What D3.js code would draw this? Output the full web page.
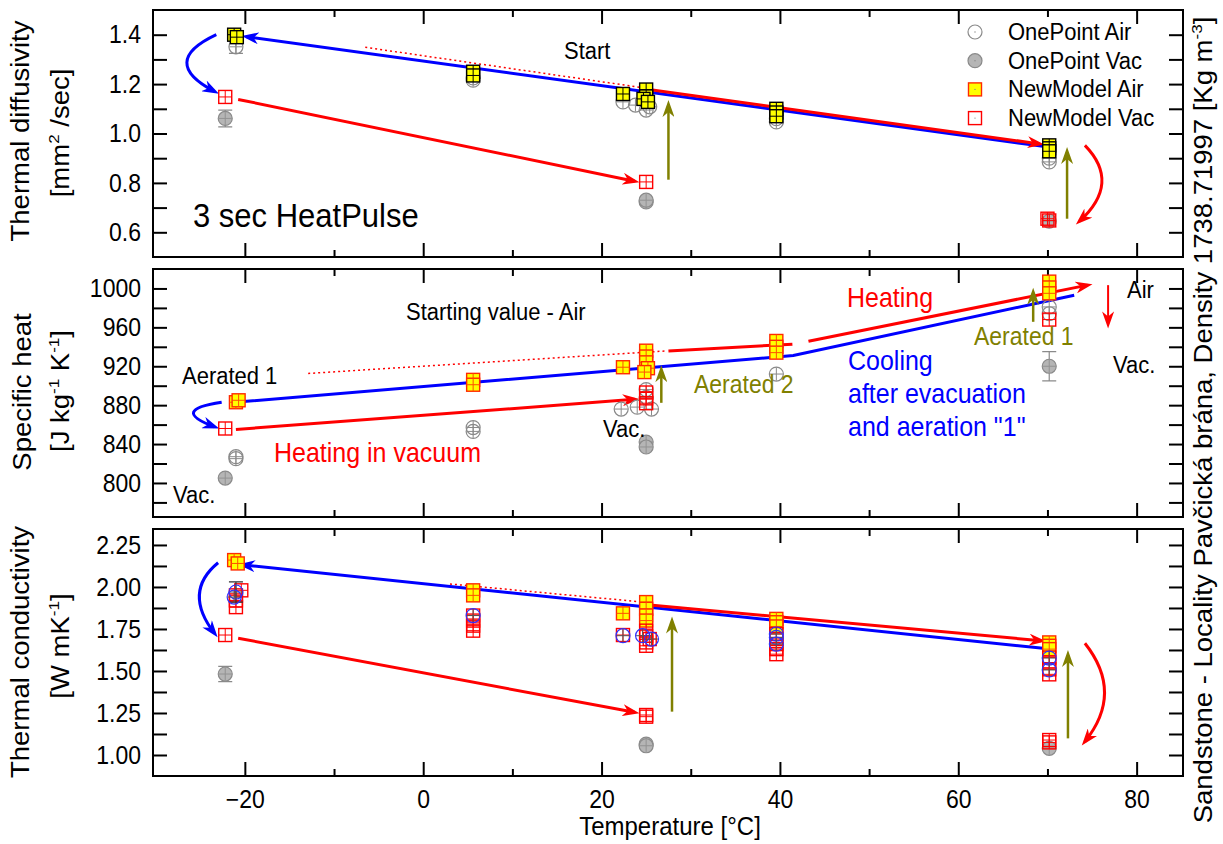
<!DOCTYPE html>
<html>
<head>
<meta charset="utf-8">
<script src="https://cdn.jsdelivr.net/npm/d3@7"></script>
<style>
  body { margin: 0; background: #fff; }
  svg text { font-family: "Liberation Sans", Arial, sans-serif; }
</style>
</head>
<body>
<div id="chart"></div>
<script>
// ---- data (temperature in degC, value, optional error) ----
var tempTicks = [-20, 0, 20, 40, 60, 80];
var tempMinor = [-10, 10, 30, 50, 70];

var diffTicks = [0.6, 0.7, 0.8, 0.9, 1.0, 1.1, 1.2, 1.3, 1.4];
var diffLabels = [0.6, 0.8, 1.0, 1.2, 1.4];
var heatTicks = [780, 800, 820, 840, 860, 880, 900, 920, 940, 960, 980, 1000];
var heatLabels = [800, 840, 880, 920, 960, 1000];
var condTicks = [1.0, 1.125, 1.25, 1.375, 1.5, 1.625, 1.75, 1.875, 2.0, 2.125, 2.25];
var condLabels = [1.0, 1.25, 1.5, 1.75, 2.0, 2.25];

// thermal diffusivity [mm2/s]
var diffOneAir = [[-21.0, 1.351, 0.027], [5.6, 1.216], [5.6, 1.225], [22.4, 1.128], [23.8, 1.115],
  [25.0, 1.095], [25.4, 1.108], [39.6, 1.047], [39.6, 1.06], [70.2, 0.885], [70.2, 0.9]];
var diffOneVac = [[-22.2, 1.061, 0.034], [25.0, 0.723], [25.0, 0.73], [70.2, 0.645]];
var diffNewAir = [[-21.2, 1.40], [-20.9, 1.39], [5.6, 1.25], [5.6, 1.235], [22.4, 1.16],
  [25.0, 1.178], [25.0, 1.15], [24.7, 1.14], [25.2, 1.128], [39.6, 1.10], [39.6, 1.085],
  [39.6, 1.07], [70.2, 0.952], [70.2, 0.94], [70.2, 0.928]];
var diffNewVac = [[-22.2, 1.148], [25.0, 0.804], [70.2, 0.648], [70.0, 0.655]];

// specific heat [J/kg/K]
var heatOneAir = [[-21.0, 827], [-21.0, 825], [5.6, 857], [5.6, 853], [22.2, 876], [24.0, 878],
  [25.0, 896], [25.0, 888], [25.6, 876], [39.6, 912], [70.2, 981], [70.2, 974]];
var heatOneVac = [[-22.2, 805], [25.0, 842], [25.0, 837], [70.2, 920, 15]];
var heatNewAir = [[-21.0, 883], [-20.7, 885], [5.6, 906], [5.6, 901], [22.4, 919], [25.0, 936],
  [25.0, 930], [25.0, 924], [25.2, 918], [24.8, 914], [39.6, 946], [39.6, 940], [39.6, 934],
  [70.2, 1007], [70.2, 1001], [70.2, 995]];
var heatNewVac = [[-22.2, 856], [25.0, 893], [25.0, 887], [25.0, 882], [70.2, 968]];

// thermal conductivity [W/m/K]
var condOneAir = [[-21.0, 1.97, 0.06], [-21.2, 1.94], [5.6, 1.83], [22.4, 1.71], [24.6, 1.71],
  [25.6, 1.69], [39.6, 1.72], [39.6, 1.70], [39.6, 1.66], [70.2, 1.577], [70.2, 1.506]];
var condOneVac = [[-22.2, 1.482, 0.045], [25.0, 1.065], [25.0, 1.055], [70.2, 1.04]];
var condNewAir = [[-21.2, 2.16], [-20.8, 2.14], [5.6, 1.98], [5.6, 1.95], [22.4, 1.843],
  [25.0, 1.91], [25.0, 1.87], [25.0, 1.83], [25.0, 1.80], [39.6, 1.81], [39.6, 1.79],
  [39.6, 1.765], [70.2, 1.67], [70.2, 1.65], [70.2, 1.63]];
var condNewVac = [[-22.2, 1.714], [-20.4, 1.98], [-21.0, 1.95], [-21.0, 1.92], [-21.0, 1.88],
  [5.6, 1.83], [5.6, 1.80], [5.6, 1.77], [5.6, 1.74], [22.4, 1.714], [25.0, 1.74], [25.0, 1.71],
  [25.4, 1.69], [25.0, 1.67], [25.0, 1.65], [25.0, 1.238], [25.0, 1.228], [39.6, 1.72],
  [39.6, 1.69], [39.6, 1.66], [39.6, 1.63], [39.6, 1.60], [70.2, 1.58], [70.2, 1.55],
  [70.2, 1.51], [70.2, 1.48], [70.2, 1.089], [70.2, 1.075]];

// guide lines / arrows (data units)
var diffCool = [[69.5, 0.948], [-19.8, 1.392]];
var diffHeatAir = [[25.5, 1.177], [69.1, 0.958]];
var diffStart = [[-6.5, 1.349], [24.3, 1.187]];
var diffHeatVac = [[-20.75, 1.138], [23.7, 0.807]];
var diffEvac = [[-23.2, 1.40], [-29.7, 1.29], [-23.4, 1.17]];
var diffEvac2 = [[74.2, 0.952], [78.3, 0.80], [73.6, 0.645]];
var diffAer1 = [[27.5, 0.813], [27.5, 1.115]];
var diffAer2 = [[72.2, 0.655], [72.2, 0.925]];

var heatCool = [[-20.5, 883.4], [41.5, 931], [73, 993]];
var heatHeatVac = [[-21, 855], [23.7, 886]];
var heatHeatAir1 = [[27.5, 935.8], [41.4, 942.7]];
var heatHeatAir2 = [[43.2, 945.8], [74.5, 1003.4]];
var heatStart = [[-12.9, 912.6], [27.3, 935.8]];
var heatEvac = [[-22.6, 883], [-28.5, 875], [-23.4, 857.7]];
var heatAer1 = [[26.7, 882.4], [26.7, 916]];
var heatAer2 = [[68.4, 965.7], [68.4, 995.5]];
var heatDown = [[76.8, 1003.4], [76.8, 964]];

var condCool = [[69.5, 1.635], [-20.2, 2.131]];
var condHeatAir = [[25.4, 1.893], [69.3, 1.68]];
var condStart = [[3, 2.018], [24.3, 1.912]];
var condHeatVac = [[-20.75, 1.695], [23.7, 1.254]];
var condEvac = [[-23.0, 2.144], [-27.0, 1.97], [-23.4, 1.724]];
var condEvac2 = [[74.2, 1.665], [78.6, 1.37], [74.2, 1.08]];
var condAer1 = [[27.9, 1.258], [27.9, 1.794]];
var condAer2 = [[72.3, 1.099], [72.3, 1.595]];

// ---- layout ----
var W = 1223, H = 844, L = 153, R = 1183, SY = 1.1;
var BLUE = "#0000ff", RED = "#ff0000", OLIVE = "#808000";

var svg = d3.select("#chart").append("svg")
  .attr("width", W).attr("height", H)
  .attr("viewBox", "0 0 " + W + " " + H);

var x = d3.scaleLinear().domain([-30.3, 85.2]).range([L, R]);
var yDiff = d3.scaleLinear().domain([0.5, 1.5]).range([257, 10]);
var yHeat = d3.scaleLinear().domain([765, 1020]).range([517, 269]);
var yCond = d3.scaleLinear().domain([0.875, 2.345]).range([776, 529]);

var defs = svg.append("defs");
[["blue", BLUE], ["red", RED], ["olive", OLIVE]].forEach(function (c) {
  defs.append("marker").attr("id", "ah-" + c[0])
    .attr("markerUnits", "userSpaceOnUse")
    .attr("markerWidth", 18).attr("markerHeight", 12)
    .attr("refX", 12).attr("refY", 6).attr("orient", "auto")
    .append("path").attr("d", "M0,0 L17,6 L0,12 L5,6 Z").attr("fill", c[1]);
});

function label(g, px, py, parts, o) {
  var t = g.append("text")
    .attr("transform", "translate(" + px + "," + py + ") scale(1," + SY + ")" + (o.rot ? " rotate(" + o.rot + ")" : ""))
    .attr("font-size", o.size).attr("fill", o.color || "#000")
    .attr("text-anchor", o.anchor || "start");
  if (typeof parts === "string") parts = [[parts]];
  var up = false;
  parts.forEach(function (p) {
    var s = t.append("tspan").text(p[0]);
    if (p[1]) { s.attr("font-size", o.size * 0.62).attr("dy", -o.size * 0.42); up = true; }
    else if (up) { s.attr("dy", o.size * 0.42); up = false; }
  });
  return t;
}

function frame(ys, ticks, labels, fmt) {
  var g = svg.append("g");
  var y0 = ys.range()[0], y1 = ys.range()[1];
  function style(a) {
    a.select(".domain").remove();
    a.selectAll("line").attr("stroke", "#000").attr("stroke-width", 2);
  }
  g.append("g").attr("transform", "translate(0," + y0 + ")")
    .call(d3.axisBottom(x).tickValues(tempTicks).tickSize(-14).tickFormat("")).call(style);
  g.append("g").attr("transform", "translate(0," + y0 + ")")
    .call(d3.axisBottom(x).tickValues(tempMinor).tickSize(-7).tickFormat("")).call(style);
  g.append("g").attr("transform", "translate(0," + y1 + ")")
    .call(d3.axisTop(x).tickValues(tempTicks).tickSize(-14).tickFormat("")).call(style);
  g.append("g").attr("transform", "translate(0," + y1 + ")")
    .call(d3.axisTop(x).tickValues(tempMinor).tickSize(-7).tickFormat("")).call(style);
  g.append("g").attr("transform", "translate(" + L + ",0)")
    .call(d3.axisLeft(ys).tickValues(ticks).tickSize(-14).tickFormat("")).call(style);
  g.append("g").attr("transform", "translate(" + R + ",0)")
    .call(d3.axisRight(ys).tickValues(ticks).tickSize(-14).tickFormat("")).call(style);
  var lab = g.append("g").attr("transform", "translate(" + L + ",0)")
    .call(d3.axisLeft(ys).tickValues(labels).tickSize(0).tickPadding(12).tickFormat(fmt));
  lab.select(".domain").remove();
  lab.selectAll("text").attr("font-size", 23).attr("font-family", null)
    .attr("fill", "#000").attr("transform", "scale(1," + SY + ")");
  g.append("rect").attr("x", L).attr("y", y1).attr("width", R - L).attr("height", y0 - y1)
    .attr("fill", "none").attr("stroke", "#000").attr("stroke-width", 2);
  return g;
}

function marks(g, pts, ys, st) {
  var sel = g.append("g").selectAll("g").data(pts).join("g")
    .attr("transform", function (d) { return "translate(" + x(d[0]) + "," + ys(d[1]) + ")"; });
  sel.filter(function (d) { return d[2]; }).append("path")
    .attr("d", function (d) {
      var h = ys(d[1] - d[2]) - ys(d[1]);
      return "M0," + (-h) + "V" + h + "M-7," + (-h) + "H7M-7," + h + "H7";
    })
    .attr("stroke", st.err).attr("stroke-width", 1.2).attr("fill", "none");
  if (st.shape === "sq") {
    sel.append("rect").attr("x", -6.5).attr("y", -6.5).attr("width", 13).attr("height", 13)
      .attr("fill", st.fill).attr("stroke", st.stroke).attr("stroke-width", 1.4);
  } else {
    sel.append("circle").attr("r", 7)
      .attr("fill", st.fill).attr("stroke", st.stroke).attr("stroke-width", 1.2);
  }
  sel.append("path").attr("d", st.dot ? "M-0.6,0H0.6" : "M-6.5,0H6.5M0,-6.5V6.5")
    .attr("stroke", st.cross).attr("stroke-width", st.dot ? 1.5 : 1).attr("fill", "none");
}

function poly(g, pts, ys, color, w, arrow, dash) {
  var p = g.append("path")
    .attr("d", d3.line().x(function (d) { return x(d[0]); }).y(function (d) { return ys(d[1]); })(pts))
    .attr("fill", "none").attr("stroke", color).attr("stroke-width", w);
  if (arrow) p.attr("marker-end", "url(#ah-" + arrow + ")");
  if (dash) p.attr("stroke-dasharray", dash);
}

function bend(g, pts, ys, color, arrow) {
  var d = "M" + x(pts[0][0]) + "," + ys(pts[0][1]) +
    "Q" + x(pts[1][0]) + "," + ys(pts[1][1]) + " " + x(pts[2][0]) + "," + ys(pts[2][1]);
  g.append("path").attr("d", d).attr("fill", "none").attr("stroke", color)
    .attr("stroke-width", 3).attr("marker-end", "url(#ah-" + arrow + ")");
}

var oneAir = { shape: "ci", fill: "none", stroke: "#8a8a8a", cross: "#8a8a8a", err: "#8a8a8a" };
var oneVac = { shape: "ci", fill: "#b5b5b5", stroke: "#8a8a8a", cross: "#929292", err: "#8a8a8a" };
var oneAirBlue = { shape: "ci", fill: "none", stroke: "#3030ff", cross: "#555", err: "#333" };
var newAirTop = { shape: "sq", fill: "#ffff00", stroke: "#000", cross: "#000" };
var newAir = { shape: "sq", fill: "#ffff00", stroke: "#ff2a00", cross: "#ff5000" };
var newVac = { shape: "sq", fill: "none", stroke: "#ff0000", cross: "#ff0000" };

// ---- top panel: thermal diffusivity ----
var g1 = frame(yDiff, diffTicks, diffLabels, d3.format(".1f"));
poly(g1, diffStart, yDiff, RED, 1.5, null, "2,3");
poly(g1, diffCool, yDiff, BLUE, 3, "blue");
poly(g1, diffHeatAir, yDiff, RED, 3, "red");
poly(g1, diffHeatVac, yDiff, RED, 3, "red");
bend(g1, diffEvac, yDiff, BLUE, "blue");
bend(g1, diffEvac2, yDiff, RED, "red");
poly(g1, diffAer1, yDiff, OLIVE, 2.5, "olive");
poly(g1, diffAer2, yDiff, OLIVE, 2.5, "olive");
marks(g1, diffOneAir, yDiff, oneAir);
marks(g1, diffOneVac, yDiff, oneVac);
marks(g1, diffNewAir, yDiff, newAirTop);
marks(g1, diffNewVac, yDiff, newVac);
label(g1, 193, 227, "3 sec HeatPulse", { size: 31 });
label(g1, 564, 59, "Start", { size: 22 });

// legend
var legendNames = ["OnePoint Air", "OnePoint Vac", "NewModel Air", "NewModel Vac"];
var legendStyles = [oneAir, oneVac, newAir, newVac];
legendNames.forEach(function (n, i) {
  var ly = 32 + i * 28.7;
  var st = Object.assign({}, legendStyles[i], { dot: true, cross: "#ff0000" });
  var lg = svg.append("g").attr("transform", "translate(975," + ly + ")");
  if (st.shape === "sq") {
    lg.append("rect").attr("x", -6.5).attr("y", -6.5).attr("width", 13).attr("height", 13)
      .attr("fill", st.fill).attr("stroke", st.stroke).attr("stroke-width", 1.4);
  } else {
    lg.append("circle").attr("r", 7).attr("fill", st.fill).attr("stroke", st.stroke).attr("stroke-width", 1.2);
  }
  lg.append("circle").attr("r", 0.7).attr("fill", "#888");
  label(svg, 1008, ly + 8, n, { size: 22 });
});

// ---- middle panel: specific heat ----
var g2 = frame(yHeat, heatTicks, heatLabels, d3.format("d"));
poly(g2, heatStart, yHeat, RED, 1.5, null, "2,3");
poly(g2, heatCool, yHeat, BLUE, 3);
poly(g2, heatHeatVac, yHeat, RED, 3, "red");
poly(g2, heatHeatAir1, yHeat, RED, 3);
poly(g2, heatHeatAir2, yHeat, RED, 3, "red");
bend(g2, heatEvac, yHeat, BLUE, "blue");
poly(g2, heatAer1, yHeat, OLIVE, 2.5, "olive");
poly(g2, heatAer2, yHeat, OLIVE, 2.5, "olive");
poly(g2, heatDown, yHeat, RED, 2, "red");
marks(g2, heatOneAir, yHeat, oneAir);
marks(g2, heatOneVac, yHeat, oneVac);
marks(g2, heatNewAir, yHeat, newAir);
marks(g2, heatNewVac, yHeat, newVac);
label(g2, 406, 320, "Starting value - Air", { size: 22 });
label(g2, 182, 384, "Aerated 1", { size: 22 });
label(g2, 274, 462, "Heating in vacuum", { size: 25, color: RED });
label(g2, 847, 307, "Heating", { size: 25, color: RED });
label(g2, 848, 370, "Cooling", { size: 25, color: BLUE });
label(g2, 848, 403, "after evacuation", { size: 25, color: BLUE });
label(g2, 848, 436, "and aeration \"1\"", { size: 25, color: BLUE });
label(g2, 694, 393, "Aerated 2", { size: 23, color: OLIVE });
label(g2, 974, 345, "Aerated 1", { size: 23, color: OLIVE });
label(g2, 1127, 298, "Air", { size: 22 });
label(g2, 1113, 373, "Vac.", { size: 22 });
label(g2, 173, 503, "Vac.", { size: 22 });
label(g2, 603, 437, "Vac.", { size: 22 });

// ---- bottom panel: thermal conductivity ----
var g3 = frame(yCond, condTicks, condLabels, d3.format(".2f"));
poly(g3, condStart, yCond, RED, 1.5, null, "2,3");
poly(g3, condCool, yCond, BLUE, 3, "blue");
poly(g3, condHeatAir, yCond, RED, 3, "red");
poly(g3, condHeatVac, yCond, RED, 3, "red");
bend(g3, condEvac, yCond, BLUE, "blue");
bend(g3, condEvac2, yCond, RED, "red");
poly(g3, condAer1, yCond, OLIVE, 2.5, "olive");
poly(g3, condAer2, yCond, OLIVE, 2.5, "olive");
marks(g3, condOneVac, yCond, oneVac);
marks(g3, condNewAir, yCond, newAir);
marks(g3, condNewVac, yCond, newVac);
marks(g3, condOneAir, yCond, oneAirBlue);

// x tick labels on the bottom panel
var xl = svg.append("g").attr("transform", "translate(0,776)")
  .call(d3.axisBottom(x).tickValues(tempTicks).tickSize(0).tickPadding(13).tickFormat(d3.format("d")));
xl.select(".domain").remove();
xl.selectAll("text").attr("font-size", 23).attr("font-family", null).attr("fill", "#000")
  .attr("transform", "scale(1," + SY + ")");

// axis titles
label(svg, 670, 835, "Temperature [°C]", { size: 24, anchor: "middle" });
label(svg, 29, 131, "Thermal diffusivity", { size: 25, anchor: "middle", rot: -90 });
label(svg, 69, 133, [["[mm"], ["2", true], [" /sec]"]], { size: 25, anchor: "middle", rot: -90 });
label(svg, 31, 392, "Specific heat", { size: 25, anchor: "middle", rot: -90 });
label(svg, 69, 391, [["[J kg"], ["-1", true], [" K"], ["-1", true], ["]"]], { size: 25, anchor: "middle", rot: -90 });
label(svg, 29, 652, "Thermal conductivity", { size: 25, anchor: "middle", rot: -90 });
label(svg, 69, 646, [["[W mK"], ["-1", true], ["]"]], { size: 25, anchor: "middle", rot: -90 });
label(svg, 1212, 420, [["Sandstone - Locality Pavčická brána, Density 1738.71997 [Kg m"], ["-3", true], ["]"]],
  { size: 25, anchor: "middle", rot: -90 });
</script>
</body>
</html>
